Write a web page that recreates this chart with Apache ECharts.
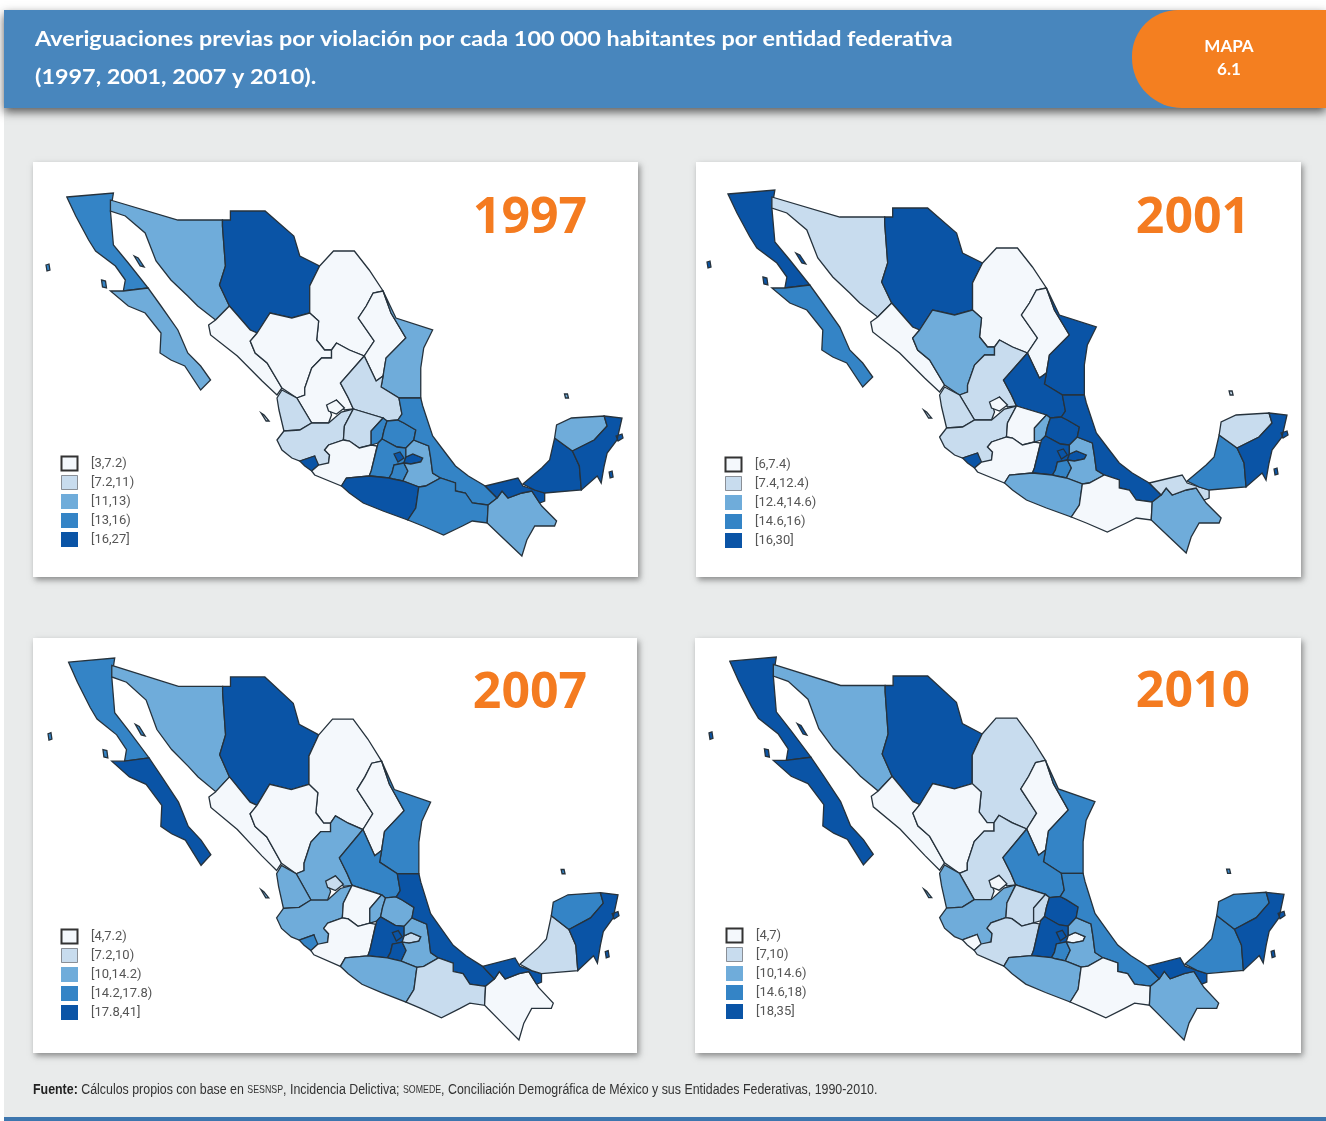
<!DOCTYPE html>
<html>
<head>
<meta charset="utf-8">
<title>Mapa 6.1</title>
<style>
  html, body { margin: 0; padding: 0; background: #fff; }
  #main { width: 1326px; height: 1121px; }
</style>
<script src="https://cdn.jsdelivr.net/npm/echarts@6/dist/echarts.min.js"></script>
</head>
<body>
<div id="main"></div>
<script>
const titleLines = [
  'Averiguaciones previas por violación por cada 100 000 habitantes por entidad federativa',
  '(1997, 2001, 2007 y 2010).'
]
const years = ['1997', '2001', '2007', '2010']
const stateNames = ['BC', 'BCS', 'Son', 'Chih', 'Coah', 'NL', 'Tamps', 'Sin', 'Dgo', 'Zac', 'SLP', 'Ags',
  'Nay', 'Jal', 'Col', 'Gto', 'Qro', 'Hgo', 'Mich', 'Mex', 'DF', 'Tlax', 'Mor', 'Pue', 'Ver', 'Gro',
  'Oax', 'Chis', 'Tab', 'Camp', 'Yuc', 'QRoo']

const values1997 = [14.5, 12.1, 11.8, 22, 5.5, 5.1, 12.4, 6.2, 6.6, 5.9, 8.7, 6.4,
  9.2, 9.8, 19, 8.1, 14.2, 13.9, 6.3, 14.8, 20, 18, 15.1, 12.2, 15.3, 21,
  13.6, 11.9, 18.5, 17.4, 12.6, 24]
const values2001 = [21, 15.2, 9.4, 23, 6.6, 6.9, 18, 7.1, 13.2, 10.1, 17.2, 6.8,
  8.8, 9.9, 17.5, 7.2, 13.1, 16.8, 6.9, 19, 22, 16.5, 15.1, 13.4, 20, 13.8,
  7.1, 13.5, 10.4, 15.3, 9.6, 26]
const values2007 = [16.1, 24, 11.9, 26, 5.3, 6.2, 15.4, 6.8, 5.9, 12.3, 15.9, 8.4,
  12.8, 11.5, 15.2, 6.1, 11.8, 13.1, 6.5, 22, 19, 8.9, 20, 12.4, 23, 12.1,
  8.6, 6.4, 21, 9.2, 16.4, 29]
const values2010 = [24, 22, 12.2, 31, 8.4, 5.9, 16.2, 6.1, 5.4, 8.8, 15.9, 6.2,
  12.6, 12.9, 6.4, 9.1, 8.3, 20, 8.9, 26, 21, 5.8, 15.4, 13.1, 16.6, 12.2,
  6.3, 12.8, 23, 15.8, 16.1, 19.5]
const seriesValues = [values1997, values2001, values2007, values2010]

const binColors = ['#F4F8FC', '#C8DCEE', '#6FACDA', '#3484C6', '#0A54A6']
const bins1997 = [3, 7.2, 11, 13, 16, 27]
const bins2001 = [6, 7.4, 12.4, 14.6, 16, 30]
const bins2007 = [4, 7.2, 10, 14.2, 17.8, 41]
const bins2010 = [4, 7, 10, 14.6, 18, 35]
const seriesBins = [bins1997, bins2001, bins2007, bins2010]

// contornos de las entidades (x, y de pantalla del panel 2001)
const outlines = {
  BC: [[[728, 194], [775, 190], [772, 208], [775, 242], [790, 260], [810, 285], [785, 288], [787, 277], [777, 263], [757, 248], [750, 237], [737, 213]],
    [[707, 262], [710, 261], [711, 267], [708, 268]], [[763, 277], [767, 278], [768, 285], [764, 284]], [[796, 253], [800, 255], [806, 264], [802, 263]]],
  BCS: [[[785, 288], [810, 285], [823, 303], [840, 327], [850, 350], [863, 363], [873, 377], [863, 387], [847, 363], [833, 357], [822, 350], [823, 330], [807, 310], [790, 303], [772, 288]]],
  Son: [[[772, 197], [840, 217], [885, 217], [885, 223], [888, 263], [882, 282], [892, 303], [878, 317], [860, 303], [850, 293], [833, 277], [818, 258], [807, 230], [787, 213], [772, 208]]],
  Chih: [[[893, 208], [928, 208], [957, 233], [963, 253], [983, 263], [973, 283], [973, 310], [955, 315], [933, 310], [920, 330], [913, 327], [892, 303], [882, 282], [888, 263], [885, 223], [885, 217], [893, 217]]],
  Coah: [[[983, 263], [997, 248], [1018, 248], [1033, 267], [1047, 288], [1037, 290], [1030, 303], [1022, 315], [1038, 338], [1028, 353], [1013, 347], [1000, 340], [995, 347], [988, 347], [980, 337], [982, 318], [973, 310], [973, 283]]],
  NL: [[[1047, 288], [1055, 310], [1070, 335], [1050, 355], [1047, 373], [1040, 378], [1028, 353], [1038, 338], [1022, 315], [1030, 303], [1037, 290]]],
  Tamps: [[[1047, 288], [1060, 315], [1097, 327], [1088, 345], [1085, 365], [1085, 395], [1063, 395], [1045, 384], [1047, 373], [1050, 355], [1070, 335], [1055, 310]]],
  Sin: [[[878, 317], [892, 303], [913, 327], [920, 330], [913, 338], [918, 350], [930, 360], [945, 385], [940, 392], [925, 378], [900, 353], [873, 332], [871, 322]]],
  Dgo: [[[920, 330], [933, 310], [955, 315], [973, 310], [982, 318], [980, 337], [988, 347], [995, 347], [995, 355], [985, 355], [975, 365], [968, 385], [968, 392], [960, 395], [945, 385], [930, 360], [918, 350], [913, 338]]],
  Zac: [[[995, 347], [1000, 340], [1013, 347], [1028, 353], [1004, 380], [1012, 395], [1017, 406], [1008, 407], [1000, 397], [992, 402], [995, 412], [992, 420], [975, 420], [972, 415], [963, 400], [960, 395], [968, 392], [968, 385], [975, 365], [985, 355], [995, 355]]],
  SLP: [[[1028, 353], [1040, 378], [1047, 373], [1045, 384], [1063, 395], [1066, 411], [1062, 417], [1051, 418], [1047, 415], [1017, 406], [1012, 395], [1004, 380]]],
  Ags: [[[990, 402], [1000, 397], [1008, 405], [1000, 411], [992, 408]]],
  Nay: [[[940, 395], [945, 387], [960, 395], [963, 400], [972, 415], [975, 420], [963, 427], [947, 428], [942, 407]],
    [[924, 410], [927, 412], [932, 418], [929, 418]]],
  Jal: [[[940, 437], [947, 428], [963, 427], [975, 420], [992, 420], [1005, 409], [1017, 406], [1008, 423], [1007, 437], [992, 442], [988, 447], [993, 452], [992, 460], [980, 465], [978, 453], [963, 458], [955, 455], [945, 447]]],
  Col: [[[963, 458], [978, 453], [982, 462], [975, 468], [968, 463]]],
  Gto: [[[1017, 406], [1047, 415], [1035, 428], [1035, 442], [1023, 445], [1013, 438], [1007, 437], [1008, 423]]],
  Qro: [[[1047, 415], [1051, 418], [1048, 427], [1046, 436], [1042, 440], [1035, 442], [1035, 428]]],
  Hgo: [[[1051, 418], [1062, 417], [1068, 420], [1080, 427], [1078, 437], [1070, 445], [1061, 444], [1046, 436], [1048, 427]]],
  Mich: [[[992, 442], [1007, 437], [1013, 438], [1023, 445], [1035, 442], [1041, 443], [1035, 468], [1033, 473], [1010, 475], [1005, 483], [978, 472], [975, 468], [982, 462], [992, 460], [993, 452], [988, 447]]],
  Mex: [[[1042, 440], [1046, 436], [1061, 444], [1070, 445], [1070, 454], [1068, 460], [1058, 462], [1056, 470], [1053, 475], [1035, 473], [1033, 473], [1035, 468]]],
  DF: [[[1058, 451], [1064, 449], [1068, 455], [1062, 459]]],
  Tlax: [[[1070, 454], [1077, 451], [1087, 455], [1085, 459], [1075, 461], [1068, 460]]],
  Mor: [[[1058, 462], [1068, 460], [1072, 468], [1067, 478], [1057, 476], [1053, 475], [1056, 470]]],
  Pue: [[[1078, 437], [1093, 443], [1095, 455], [1097, 470], [1105, 475], [1090, 483], [1083, 484], [1067, 478], [1072, 468], [1068, 460], [1075, 461], [1085, 459], [1087, 455], [1077, 451], [1070, 454], [1070, 445]]],
  Ver: [[[1085, 395], [1087, 403], [1097, 433], [1110, 450], [1120, 463], [1133, 473], [1150, 483], [1162, 495], [1153, 502], [1137, 500], [1130, 490], [1120, 488], [1120, 480], [1105, 475], [1097, 470], [1095, 455], [1093, 443], [1078, 437], [1080, 427], [1068, 420], [1062, 417], [1066, 411], [1063, 395]]],
  Gro: [[[1005, 483], [1010, 475], [1033, 473], [1053, 475], [1057, 476], [1067, 478], [1083, 484], [1080, 505], [1072, 517], [1047, 508], [1027, 500], [1013, 490]]],
  Oax: [[[1083, 484], [1090, 483], [1105, 475], [1120, 480], [1120, 488], [1130, 490], [1137, 500], [1153, 502], [1152, 520], [1137, 518], [1127, 523], [1108, 532], [1087, 523], [1072, 517], [1080, 505]]],
  Chis: [[[1153, 502], [1162, 495], [1167, 488], [1173, 495], [1187, 490], [1197, 488], [1207, 503], [1222, 518], [1220, 523], [1200, 523], [1192, 537], [1187, 553], [1170, 537], [1152, 520]]],
  Tab: [[[1150, 483], [1183, 475], [1188, 483], [1200, 487], [1210, 490], [1210, 498], [1205, 500], [1197, 488], [1187, 490], [1173, 495], [1167, 488], [1162, 495]]],
  Camp: [[[1188, 481], [1207, 465], [1215, 457], [1220, 435], [1238, 448], [1245, 463], [1247, 487], [1210, 490], [1200, 487]]],
  Yuc: [[[1220, 435], [1222, 422], [1237, 415], [1270, 413], [1273, 423], [1260, 437], [1238, 448]],
    [[1230, 391], [1233, 391], [1234, 395], [1231, 395]]],
  QRoo: [[[1270, 413], [1288, 415], [1283, 437], [1273, 450], [1270, 463], [1267, 480], [1263, 473], [1247, 487], [1245, 463], [1238, 448], [1260, 437], [1273, 423]],
    [[1282, 433], [1288, 431], [1289, 435], [1284, 438]], [[1275, 469], [1278, 468], [1279, 474], [1276, 475]]]
}

const geoJson = {
  type: 'FeatureCollection',
  features: stateNames.map((name) => ({
    type: 'Feature',
    properties: { name: name },
    geometry: {
      type: 'MultiPolygon',
      // la y de pantalla va hacia abajo, la de geo hacia arriba
      coordinates: outlines[name].map((ring) => [ring.map((p) => [p[0], -p[1]])])
    }
  }))
}
// un nombre por panel: series map con el mismo mapa se fusionan
years.forEach((year) => echarts.registerMap('mexico' + year, geoJson))

// rectangulos de tarjeta y de mapa en cada panel
const cards = [[33, 162, 605, 415], [696, 162, 605, 415], [33, 638, 604, 415], [695, 638, 606, 415]]
const mapBoxes = [[46, 193, 577, 363], [707, 190, 581, 363], [48, 658, 571, 382], [709, 657, 576, 383]]
const yearPos = [[530, 219], [1193, 219], [530, 694], [1193, 693]]
const legendPos = [[61, 456], [725, 457], [61, 929], [726, 928]]

function binLabel(bins, i) {
  return '[' + bins[i] + ',' + bins[i + 1] + (i === 4 ? ']' : ')')
}

const graphic = [
  { type: 'rect', z: 0, silent: true, shape: { x: 4, y: 10, width: 1322, height: 1111 }, style: { fill: '#E9EBEB' } },
  { type: 'rect', z: 0, silent: true, shape: { x: 4, y: 1117, width: 1322, height: 4 }, style: { fill: '#3D76AE' } },
  {
    type: 'rect', z: 0, silent: true, shape: { x: 4, y: 10, width: 1322, height: 98 },
    style: { fill: '#4886BD', shadowBlur: 9, shadowOffsetY: 4, shadowColor: 'rgba(40,40,40,0.75)' }
  },
  { type: 'rect', z: 0, silent: true, shape: { x: 1132, y: 10, width: 194, height: 98, r: [46, 0, 0, 50] }, style: { fill: '#F47F20' } },
  { type: 'text', z: 10, silent: true, x: 35, y: 39, scaleX: 1.087, style: { text: titleLines[0], fill: '#fff', font: 'bold 21.5px Lato', textVerticalAlign: 'middle' } },
  { type: 'text', z: 10, silent: true, x: 35, y: 77, scaleX: 1.087, style: { text: titleLines[1], fill: '#fff', font: 'bold 21.5px Lato', textVerticalAlign: 'middle' } },
  { type: 'text', z: 10, silent: true, style: { x: 1229, y: 47, text: 'MAPA', fill: '#fff', font: 'bold 17px Lato', textAlign: 'center', textVerticalAlign: 'middle' } },
  { type: 'text', z: 10, silent: true, style: { x: 1229, y: 70, text: '6.1', fill: '#fff', font: 'bold 17px Lato', textAlign: 'center', textVerticalAlign: 'middle' } },
  {
    type: 'text', z: 10, silent: true, x: 33, y: 1082, scaleX: 0.8,
    style: {
      text: '{b|Fuente:} Cálculos propios con base en {s|SESNSP}, Incidencia Delictiva; {s|SOMEDE}, Conciliación Demográfica de México y sus Entidades Federativas, 1990-2010.',
      fill: '#333', font: '15.5px "Liberation Sans"',
      rich: {
        b: { fontFamily: 'Liberation Sans', fontWeight: 'bold', fontSize: 15.5, fill: '#222' },
        s: { fontFamily: 'Liberation Sans', fontSize: 11, fill: '#333' }
      }
    }
  }
]

cards.forEach((c, i) => {
  graphic.push({
    type: 'rect', z: 0, silent: true, shape: { x: c[0], y: c[1], width: c[2], height: c[3] },
    style: { fill: '#fff', shadowBlur: 6, shadowOffsetX: 2, shadowOffsetY: 3, shadowColor: 'rgba(60,60,60,0.55)' }
  })
  graphic.push({
    type: 'text', z: 10, silent: true,
    style: { x: yearPos[i][0], y: yearPos[i][1], text: years[i], fill: '#F47B20', font: 'bold 50px "Open Sans"', textAlign: 'center', textVerticalAlign: 'middle' }
  })
  // los dos primeros cuadros de la leyenda llevan filete
  graphic.push({
    type: 'rect', z: 10, silent: true, shape: { x: legendPos[i][0] + 0.5, y: legendPos[i][1] + 0.5, width: 16, height: 14 },
    style: { fill: 'none', stroke: '#333', lineWidth: 2 }
  })
  graphic.push({
    type: 'rect', z: 10, silent: true, shape: { x: legendPos[i][0] + 0.5, y: legendPos[i][1] + 19.5, width: 16, height: 14 },
    style: { fill: 'none', stroke: '#8a8f96', lineWidth: 1 }
  })
})

const option = {
  animation: false,
  graphic: graphic,
  visualMap: years.map((year, i) => ({
    type: 'piecewise',
    seriesIndex: i,
    left: legendPos[i][0],
    top: legendPos[i][1],
    padding: 0,
    orient: 'vertical',
    inverse: true,
    align: 'left',
    itemWidth: 17,
    itemHeight: 15,
    itemGap: 4,
    textGap: 13,
    itemSymbol: 'rect',
    selectedMode: false,
    hoverLink: false,
    textStyle: { fontFamily: 'Roboto', fontSize: 13, color: '#555' },
    pieces: binColors.map((color, j) => ({
      min: seriesBins[i][j],
      max: seriesBins[i][j + 1],
      label: binLabel(seriesBins[i], j),
      color: color
    }))
  })),
  series: years.map((year, i) => ({
    type: 'map',
    name: year,
    map: 'mexico' + year,
    silent: true,
    roam: false,
    selectedMode: false,
    left: mapBoxes[i][0],
    top: mapBoxes[i][1],
    width: mapBoxes[i][2],
    height: mapBoxes[i][3],
    label: { show: false },
    emphasis: { disabled: true },
    itemStyle: { borderColor: '#26323C', borderWidth: 1.3 },
    data: stateNames.map((name, j) => ({ name: name, value: seriesValues[i][j] }))
  }))
}

const chart = echarts.init(document.getElementById('main'), null, { renderer: 'canvas' })
chart.setOption(option)
</script>
</body>
</html>
